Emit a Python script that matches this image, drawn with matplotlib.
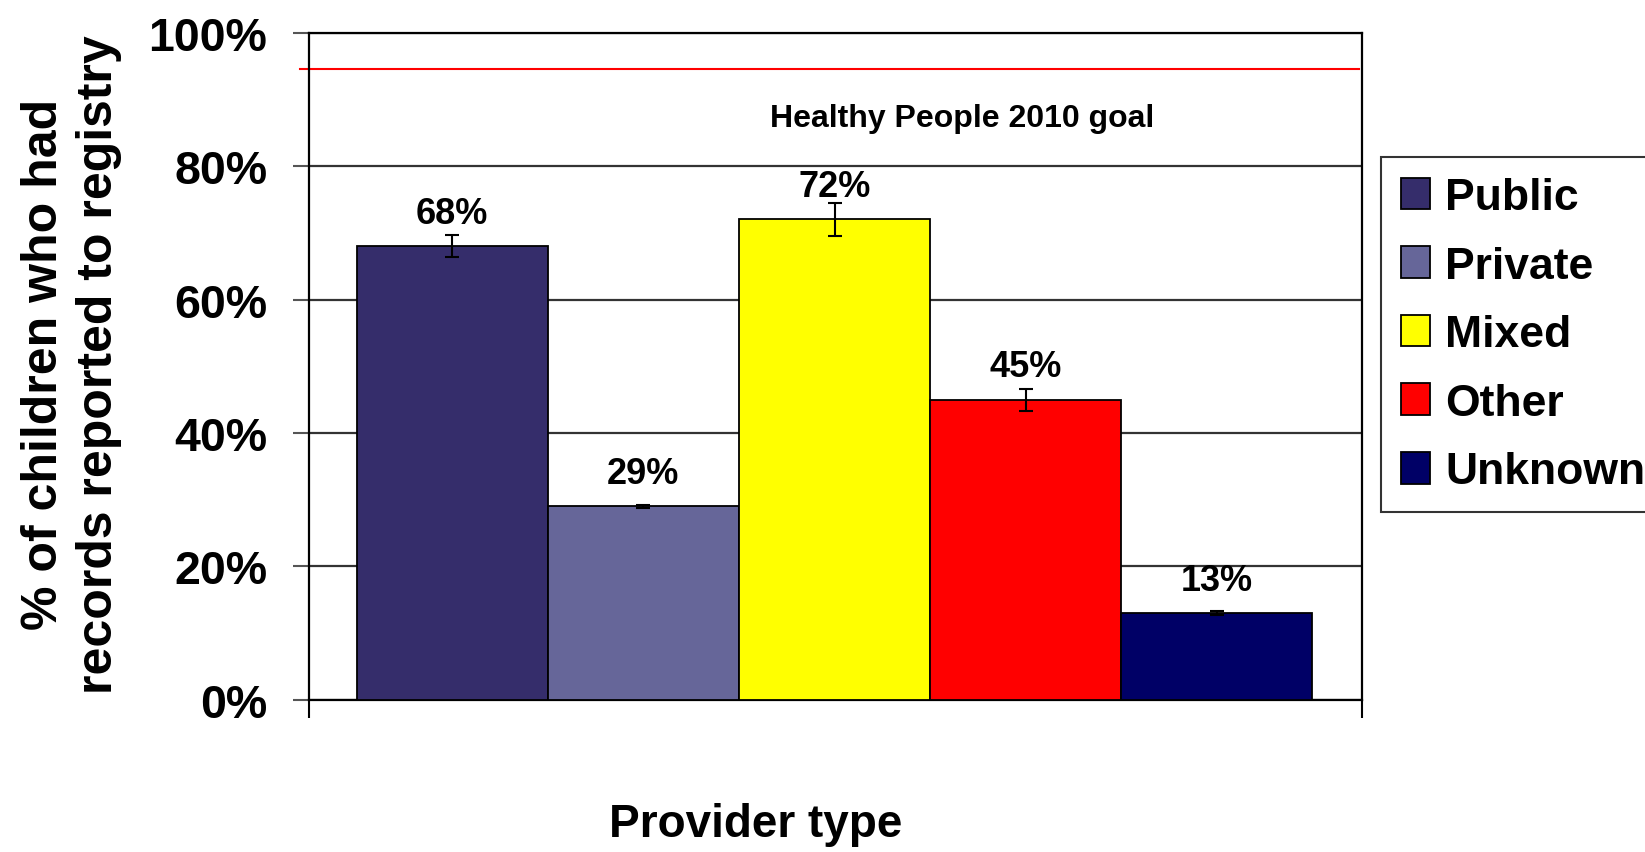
import numpy as np
import matplotlib.pyplot as plt

# data
providers = ['Public', 'Private', 'Mixed', 'Other', 'Unknown']
pct_reported = [68, 29, 72, 45, 13]
pct_err = [1.65, 0.2, 2.45, 1.63, 0.3]
bar_colors = ['#352D6B', '#666699', '#FFFF00', '#FF0000', '#000066']
goal_pct = 94.6
yticks = [0, 20, 40, 60, 80, 100]

plt.rcParams['font.family'] = ['Liberation Sans', 'DejaVu Sans']
plt.rcParams['font.weight'] = 'bold'

fig = plt.figure(figsize=(16.45, 8.53), dpi=100)
ax = fig.add_axes([0.1881, 0.1783, 0.6397, 0.7823])

x = np.arange(len(providers))
bars = ax.bar(x, pct_reported, width=1.0, color=bar_colors, edgecolor='k',
              linewidth=1.3, label=providers, zorder=3)
ax.errorbar(x, pct_reported, yerr=pct_err, fmt='none', ecolor='k',
            elinewidth=1.5, capsize=5, capthick=1.5, zorder=4)
for xi, v in zip(x, pct_reported):
  ax.text(xi, v + 3.5, f'{v}%', ha='center', va='baseline', fontsize=26,
          fontweight='bold', zorder=5)

xmin, xmax = -0.747, 4.758
ax.set_xlim(xmin, xmax)
ax.set_ylim(0, 100)

# goal line, starts a bit left of the frame
ax.plot([xmin - 0.047, xmax - 0.016], [goal_pct, goal_pct], color='#FF0000',
        lw=1.5, clip_on=False, zorder=2)
ax.text(0.62, 86.0, 'Healthy People 2010 goal', transform=ax.get_yaxis_transform(),
        ha='center', va='baseline', fontsize=23, fontweight='bold')

ax.set_yticks(yticks)
ax.set_yticklabels([f'{t}%' for t in yticks], fontsize=33.5, fontweight='bold')
ax.yaxis.grid(True, color='#333333', lw=1.6, zorder=1)
ax.set_axisbelow(True)
ax.tick_params(axis='y', direction='out', length=11.3, width=1.5,
               color='#555555', pad=19)
ax.set_xticks([xmin, xmax])
ax.set_xticklabels(['', ''])
ax.tick_params(axis='x', direction='out', length=13, width=1.5, color='k')
for s in ['left', 'right', 'top', 'bottom']:
  ax.spines[s].set_color('k')
  ax.spines[s].set_linewidth(1.6)

fig.text(0.0435, 0.573, '% of children who had\nrecords reported to registry',
         rotation=90, ha='center', va='center', fontsize=36, fontweight='bold',
         linespacing=1.25)
fig.text(756 / 1645, 1 - 837 / 853, 'Provider type', ha='center', va='baseline',
         fontsize=33, fontweight='bold')

leg = ax.legend(handles=bars.patches, labels=providers, loc='upper left',
                bbox_to_anchor=(1381 / 1645, 1 - 158 / 853),
                bbox_transform=fig.transFigure, borderaxespad=0,
                prop={'size': 32, 'weight': 'bold'}, frameon=True, fancybox=False,
                handlelength=0.65, handleheight=0.72, handletextpad=0.34,
                labelspacing=0.62, borderpad=0.45)
leg.get_frame().set_edgecolor('k')
leg.get_frame().set_linewidth(1.5)

plt.savefig('out.png', dpi=100, facecolor='w')
